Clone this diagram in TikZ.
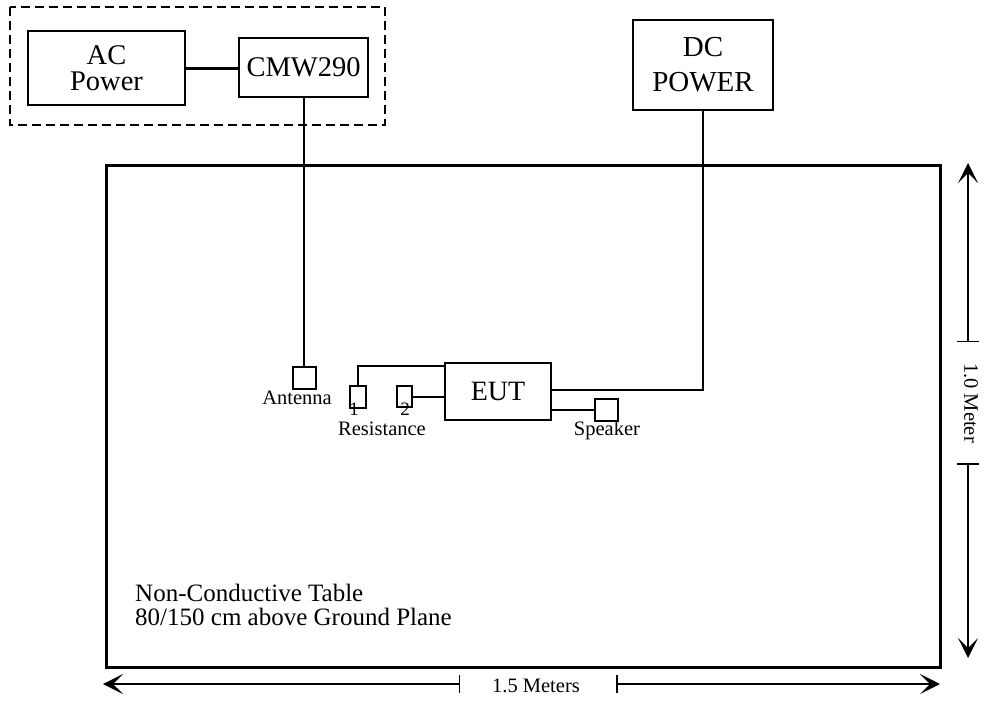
\documentclass[tikz,border=0pt]{standalone}
\usepackage{fontspec}
\setmainfont{Liberation Serif}
\usetikzlibrary{arrows.meta}

\begin{document}
\begin{tikzpicture}[x=1pt,y=-1pt,
  box/.style={draw, line width=1.8pt, inner sep=0pt, align=center},
  part/.style={draw, line width=1.8pt, inner sep=0pt},
  wire/.style={line width=2pt},
  dimline/.style={line width=1.5pt},
  dimtip/.tip={Stealth[length=20pt,width=20pt,inset=10pt]},
  lbl/.style={inner sep=0pt, anchor=base, font=\fontsize{20.5}{22}\selectfont}]
\useasboundingbox (0,0) rectangle (992,701);
% equipment off the table
\draw[line width=1.6pt, dash pattern=on 9pt off 5pt] (10,7) rectangle (385,125);
\node[box, minimum width=157pt, minimum height=74pt, font=\fontsize{28.5}{26}\selectfont] (acpower) at (106.5,68) {AC\\Power};
\node[box, minimum width=129pt, minimum height=59pt, font=\fontsize{28.5}{30}\selectfont] (cmw) at (303.5,67.5) {CMW290};
\node[box, minimum width=140pt, minimum height=90pt, font=\fontsize{29}{35}\selectfont] (dcpower) at (703,65) {DC\\POWER};
% table
\node[draw, line width=3pt, inner sep=0pt, minimum width=834pt, minimum height=502pt] (table) at (523,416) {};
\node[inner sep=0pt, anchor=north west, align=left, font=\fontsize{25}{24}\selectfont] (tabletext) at (135,584) {Non-Conductive Table\\80/150 cm above Ground Plane};
% parts on the table
\node[part, minimum width=23pt, minimum height=22pt] (antenna) at (304.5,378) {};
\node[part, minimum width=16pt, minimum height=22pt] (res1) at (358,397) {};
\node[part, minimum width=15pt, minimum height=21pt] (res2) at (404.5,396.5) {};
\node[box, minimum width=106pt, minimum height=57pt, font=\fontsize{28}{30}\selectfont] (eut) at (498,391.5) {EUT};
\node[part, minimum width=23pt, minimum height=22pt] (speaker) at (606.5,410) {};
\node[lbl] (antennatext) at (297,404) {Antenna};
\node[lbl, font=\fontsize{19}{20}\selectfont] (onetext) at (354,415) {1};
\node[lbl, font=\fontsize{19}{20}\selectfont] (twotext) at (405,415) {2};
\node[lbl] (restext) at (382,435) {Resistance};
\node[lbl] (speakertext) at (607,435) {Speaker};
% cables
\draw[line width=3pt] (acpower.east) -- (acpower.east -| cmw.west);
\draw[wire] (cmw.south) -- (cmw.south |- antenna.north);
\draw[wire] ([yshift=-4pt]eut.north west) -| (res1.north);
\draw[wire] (res2.east) -- (res2.east -| eut.west);
\draw[wire] ([yshift=2pt]eut.east) -| (dcpower.south);
\draw[wire] (speaker.west) -- (speaker.west -| eut.east);
% dimensions
\coordinate (vtop) at (968,163);
\coordinate (vmid1) at (968,342);
\coordinate (vmid2) at (968,463);
\coordinate (vbot) at (968,658);
\coordinate (hleft) at (103,684);
\coordinate (hmid1) at (460,684);
\coordinate (hmid2) at (616,684);
\coordinate (hright) at (940,684);
\draw[dimline, {dimtip}-{Bar[width=22pt]}] (vtop) -- (vmid1);
\draw[dimline, {Bar[width=22pt]}-{dimtip}] (vmid2) -- (vbot);
\draw[dimline, {dimtip}-{Bar[width=18pt]}] (hleft) -- (hmid1);
\draw[dimline, {Bar[width=18pt]}-{dimtip}] (hmid2) -- (hright);
\node[lbl, anchor=center, rotate=-90] (vlabel) at (971,403) {1.0 Meter};
\node[lbl] (hlabel) at (536,692) {1.5 Meters};
\end{tikzpicture}
\end{document}
